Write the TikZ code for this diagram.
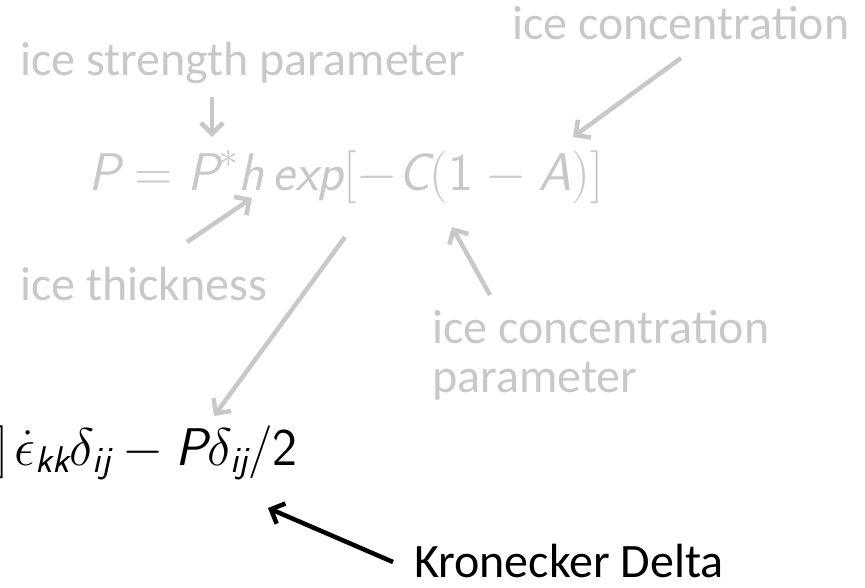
\RequirePackage{fix-cm}
\documentclass[tikz,border=0pt]{standalone}
\usepackage{amsmath}
\usepackage{fontspec}
\setmainfont{Carlito}
\usetikzlibrary{arrows.meta}
\definecolor{lg}{RGB}{200,200,200}
\newcommand{\sv}[1]{\text{\sffamily\itshape #1}}
\newcommand{\su}[1]{\text{\sffamily #1}}
\begin{document}
\begin{tikzpicture}[x=1pt,y=-1pt,
  lab/.style={text=lg, font=\fontsize{48}{54}\selectfont, inner sep=0pt, anchor=base west},
  eqn/.style={font=\fontsize{53}{60}\selectfont, inner sep=0pt, anchor=base west},
  garrow/.style={draw=lg, line width=4.5pt, -{Straight Barb[length=11pt,width=22pt]}},
  barrow/.style={draw=black, line width=4.5pt, -{Straight Barb[length=11pt,width=22pt]}}]
\useasboundingbox (0,0) rectangle (865,587);
\node[lab] (isp) at (20,75) {ice strength parameter};
\node[lab] (ic) at (512,39) {ice concentration};
\node[eqn, text=lg] (eq) at (88,190) {$\sv{P} = \sv{P}^{*}\sv{h}\,\sv{exp}[-\sv{C}(\su{1}-\sv{A})]$};
\node[lab] (it) at (20,300) {ice thickness};
\node[lab] (icp) at (432,343) {ice concentration};
\node[lab] (par) at (432,392) {parameter};
\node[eqn, text=black] (low) at (-5,465) {$]\mkern2mu\dot{\epsilon}_{\sv{kk}}\delta_{\sv{ij}} - \sv{P}\delta_{\sv{ij}}/\su{2}$};
\node[lab, text=black] (kd) at (414,577) {Kronecker Delta};
\coordinate (a1s) at (212,97);  \coordinate (a1e) at (212,137);
\coordinate (a2s) at (681,58);  \coordinate (a2e) at (573,137);
\coordinate (a3s) at (187,242); \coordinate (a3e) at (252,198);
\coordinate (a4s) at (345,237); \coordinate (a4e) at (214,416);
\coordinate (a5s) at (490,295); \coordinate (a5e) at (452,227);
\coordinate (a6s) at (393,562); \coordinate (a6e) at (268,508);
\draw[garrow] (a1s) -- (a1e);
\draw[garrow] (a2s) -- (a2e);
\draw[garrow] (a3s) -- (a3e);
\draw[garrow] (a4s) -- (a4e);
\draw[garrow] (a5s) -- (a5e);
\draw[barrow] (a6s) -- (a6e);
\end{tikzpicture}
\end{document}
